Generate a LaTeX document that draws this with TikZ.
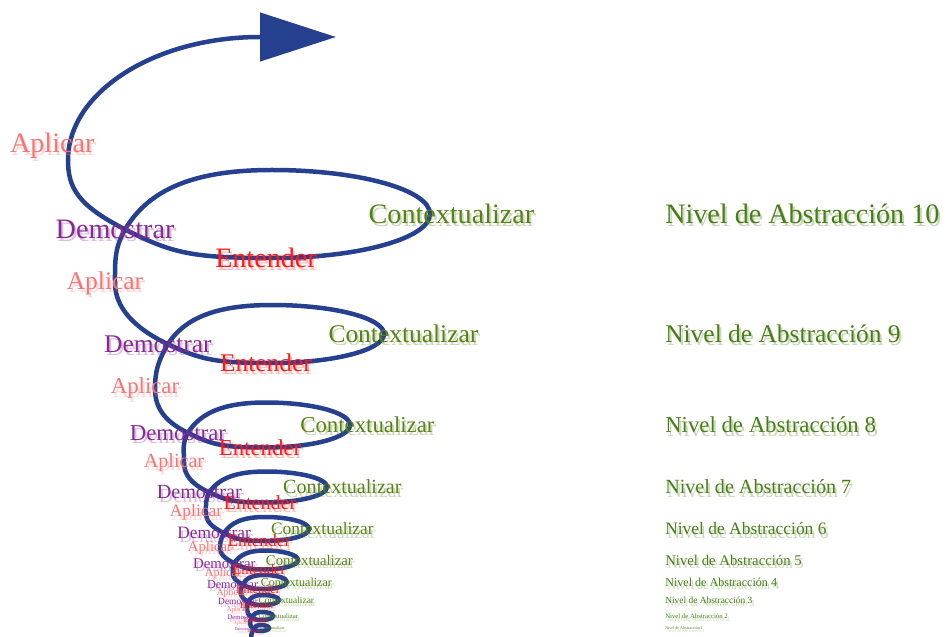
\documentclass[tikz,border=0pt]{standalone}
\usepackage{fontspec}
\setmainfont{Liberation Serif}
\usetikzlibrary{arrows.meta}

\definecolor{espiral}{RGB}{37,64,143}
\definecolor{aplicar}{RGB}{250,115,115}
\definecolor{demostrar}{RGB}{135,40,150}
\definecolor{entender}{RGB}{255,25,25}
\definecolor{contexto}{RGB}{85,130,20}
\definecolor{nivel}{RGB}{70,125,20}

% nivel / centro x / centro y / a / b / giro x / giro y
\newcommand\niveles{1/6.525/0.20/0.20/0.075/6.25/0.32,
  2/6.55/0.50/0.275/0.10/6.175/0.66,
  3/6.575/0.90/0.40/0.125/6.025/1.07,
  4/6.60/1.35/0.575/0.175/5.825/1.55,
  5/6.625/1.90/0.825/0.2375/5.50/2.195,
  6/6.625/2.675/1.10/0.30/5.15/3.08,
  7/6.65/3.725/1.525/0.3875/4.60/4.335,
  8/6.65/5.275/2.10/0.5625/3.875/6.19,
  9/6.80/7.55/2.80/0.725/2.875/8.825,
  10/6.80/10.55/3.95/1.10/1.70/11.9}

% texto con sombra
\newcommand{\glow}[4]{%
  \node[#3, text opacity=0.3, xshift=0.5mm, yshift=-0.8mm] (#1s) at (#2) {#4};
  \node[#3] (#1) at (#2) {#4};}

\begin{document}
\begin{tikzpicture}[
  spiral/.style={draw=espiral, line width=3.2pt, line cap=round},
  lbl/.style={inner sep=0pt, font=\fontsize{\fs pt}{\fs pt}\selectfont}]
\useasboundingbox (0,0) rectangle (23.65,15.9);
\clip (0,0) rectangle (23.65,15.9);

\coordinate (s0) at (6.30,-0.4);
\foreach \k/\X/\Y/\a/\b/\sx/\sy in \niveles {
  \pgfmathtruncatemacro\j{\k-1}
  \coordinate (c\k) at ({\X-0.93*\a},{\Y-0.35*\b});
  \coordinate (t\k) at (\X,{\Y+\b});
  \coordinate (r\k) at ({\X+\a},\Y);
  \coordinate (b\k) at (\X,{\Y-\b});
  \coordinate (s\k) at (\sx,\sy);
  \draw[spiral] (s\j) to[out=90,in=240] (c\k)
    .. controls +({0.15*\a},{0.9*\b}) and +({-0.5*\a},0) .. (t\k)
    .. controls +({0.55*\a},0) and +(0,{0.55*\b}) .. (r\k)
    .. controls +(0,{-0.55*\b}) and +({0.55*\a},0) .. (b\k)
    .. controls +({-0.5*\a},0) and +({0.3*\a},{-0.55*\b}) .. (c\k)
    .. controls +({-0.3*\a},{0.55*\b}) and +(0,{-0.4*(\sy-\Y+0.35*\b)}) .. (s\k);
}
\coordinate (cima) at (6.50,14.975);
\coordinate (punta) at (8.40,14.975);
\draw[spiral, -{Triangle[length=1.9cm,width=1.2cm]}] (s10)
  .. controls +(0,1.69) and +(-2.64,0) .. (cima) -- (punta);

\foreach \k/\X/\Y/\a/\b/\sx/\sy in \niveles {
  \pgfmathsetmacro\fs{1.9*\k+1}
  \pgfmathsetmacro\cx{\X+\a-0.077*\fs}
  \pgfmathsetmacro\ay{(\k==10)*0.36}
  \glow{apl\k}{[shift={({-0.25-0.4*\ay},\ay)}]s\k}{lbl,text=aplicar}{Aplicar}
  \glow{dem\k}{[xshift=-0.25cm]c\k}{lbl,text=demostrar}{Demostrar}
  \glow{ent\k}{[xshift=-0.15cm]b\k}{lbl,text=entender}{Entender}
  \glow{ctx\k}{\cx,\Y}{lbl,text=contexto,anchor=west}{Contextualizar}
  \glow{niv\k}{16.625,\Y}{lbl,text=nivel,anchor=west}{Nivel de Abstracción \k}
}
\end{tikzpicture}
\end{document}
